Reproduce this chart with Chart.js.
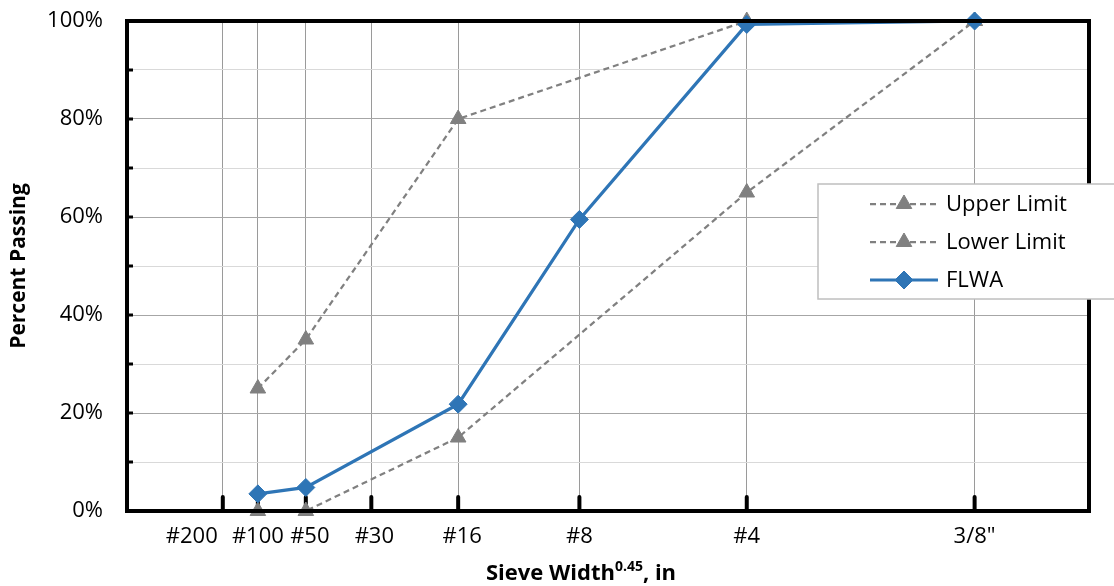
<!DOCTYPE html>
<html>
<head>
<meta charset="utf-8">
<script src="https://cdn.jsdelivr.net/npm/chart.js@4.4.0/dist/chart.umd.min.js"></script>
<style>
  html, body { margin:0; padding:0; background:#fff; }
  #wrap { width:1114px; height:586px; position:relative; }
</style>
</head>
<body>
<div id="wrap"><canvas id="gradChart"></canvas></div>
<script>
/* ------------------ Data ------------------ */
const sieveNames = ['#200', '#100', '#50', '#30', '#16', '#8', '#4', '3/8"'];
// sieve opening (in) raised to 0.45
const sieveX = [0.0727, 0.0993, 0.1357, 0.1854, 0.2513, 0.3433, 0.4703, 0.6432];
const upperLimit = [null, 25, 35, null, 80, null, 100, 100];
const lowerLimit = [null, 0, 0, null, 15, null, 65, 100];
const flwa = [null, 3.5, 4.8, null, 21.8, 59.5, 99.3, 100];
const yTicks = [0, 10, 20, 30, 40, 50, 60, 70, 80, 90, 100];

const FONT = "'Open Sans', 'Noto Sans', sans-serif";
const GRAY = '#808080';
const BLUE = '#2e75b6';
// label nudges (px) so the crowded sieve names don't collide, as in the original
const labelShift = [-31, 0, 4, 3, 4, 0, 0, 0];

function toPoints(vals) {
  return sieveX.map((x, i) => ({ x: x, y: vals[i] }));
}

/* ------------------ Frame, ticks, titles, legend ------------------ */
const framePlugin = {
  id: 'frame',
  beforeDatasetsDraw(chart) {
    const { ctx, chartArea: a, scales: { x, y } } = chart;
    ctx.save();
    ctx.strokeStyle = '#000';
    // x tick marks (inward)
    ctx.lineWidth = 4;
    ctx.lineCap = 'round';
    sieveX.forEach(v => {
      const px = x.getPixelForValue(v);
      ctx.beginPath();
      ctx.moveTo(px, a.bottom);
      ctx.lineTo(px, a.bottom - 14);
      ctx.stroke();
    });
    // y tick marks (inward)
    ctx.lineCap = 'butt';
    ctx.lineWidth = 3;
    yTicks.forEach(v => {
      const py = y.getPixelForValue(v);
      ctx.beginPath();
      ctx.moveTo(a.left, py);
      ctx.lineTo(a.left + 6, py);
      ctx.stroke();
    });
    ctx.restore();
  },
  afterDatasetsDraw(chart) {
    const { ctx, chartArea: a } = chart;
    ctx.save();
    ctx.strokeStyle = '#000';
    ctx.lineWidth = 4;
    ctx.strokeRect(a.left, a.top, a.right - a.left, a.bottom - a.top);
    ctx.restore();
  },
  afterDraw(chart) {
    const { ctx, chartArea: a, scales: { x } } = chart;

    // x tick labels
    ctx.save();
    ctx.fillStyle = '#000';
    ctx.font = '22px ' + FONT;
    ctx.textAlign = 'center';
    ctx.textBaseline = 'middle';
    sieveX.forEach((v, i) => {
      ctx.fillText(sieveNames[i], x.getPixelForValue(v) + labelShift[i], a.bottom + 26);
    });
    ctx.restore();

    // y title
    ctx.save();
    ctx.fillStyle = '#000';
    ctx.font = 'bold 21px ' + FONT;
    ctx.textAlign = 'center';
    ctx.textBaseline = 'middle';
    ctx.translate(19, 266);
    ctx.rotate(-Math.PI / 2);
    ctx.fillText('Percent Passing', 0, 0);
    ctx.restore();

    // x title with superscript
    ctx.save();
    ctx.fillStyle = '#000';
    ctx.textBaseline = 'alphabetic';
    ctx.textAlign = 'left';
    const big = 'bold 22px ' + FONT, small = 'bold 14px ' + FONT;
    ctx.font = big;
    const w1 = ctx.measureText('Sieve Width').width;
    const w3 = ctx.measureText(', in').width;
    ctx.font = small;
    const w2 = ctx.measureText('0.45').width;
    let sx = 581 - (w1 + w2 + w3) / 2;
    const base = 580;
    ctx.font = big;
    ctx.fillText('Sieve Width', sx, base);
    sx += w1;
    ctx.font = small;
    ctx.fillText('0.45', sx, base - 9);
    sx += w2;
    ctx.font = big;
    ctx.fillText(', in', sx, base);
    ctx.restore();

    // legend
    ctx.save();
    const lx = 818, ly = 184, lw = 310, lh = 115;
    ctx.fillStyle = '#fff';
    ctx.fillRect(lx, ly, lw, lh);
    ctx.strokeStyle = '#bfbfbf';
    ctx.lineWidth = 1.5;
    ctx.strokeRect(lx, ly, lw, lh);
    const items = [
      { text: 'Upper Limit', color: GRAY, dash: [6, 4], width: 2.25, style: 'triangle', r: 9, y: 204 },
      { text: 'Lower Limit', color: GRAY, dash: [6, 4], width: 2.25, style: 'triangle', r: 9, y: 242 },
      { text: 'FLWA', color: BLUE, dash: [], width: 3, style: 'rectRot', r: 9, y: 280 }
    ];
    items.forEach(it => {
      ctx.save();
      ctx.strokeStyle = it.color;
      ctx.lineWidth = it.width;
      ctx.setLineDash(it.dash);
      ctx.beginPath();
      ctx.moveTo(870, it.y);
      ctx.lineTo(938, it.y);
      ctx.stroke();
      ctx.setLineDash([]);
      ctx.fillStyle = it.color;
      ctx.strokeStyle = it.color;
      ctx.lineWidth = 1;
      Chart.helpers.drawPoint(ctx, { pointStyle: it.style, radius: it.r, borderWidth: 1 }, 904, it.y);
      ctx.restore();
      ctx.fillStyle = '#000';
      ctx.font = '22px ' + FONT;
      ctx.textAlign = 'left';
      ctx.textBaseline = 'middle';
      ctx.fillText(it.text, 946, it.y + 1);
    });
    ctx.restore();
  }
};

/* ------------------ Chart ------------------ */
const ctx = document.getElementById('gradChart').getContext('2d');
const gradChart = new Chart(ctx, {
  type: 'line',
  data: {
    datasets: [
      { label: 'Upper Limit', data: toPoints(upperLimit), borderColor: GRAY, backgroundColor: GRAY,
        borderWidth: 2.25, borderDash: [6, 4], pointStyle: 'triangle', pointRadius: 9,
        pointBorderWidth: 1, spanGaps: true, clip: false, order: 3 },
      { label: 'Lower Limit', data: toPoints(lowerLimit), borderColor: GRAY, backgroundColor: GRAY,
        borderWidth: 2.25, borderDash: [6, 4], pointStyle: 'triangle', pointRadius: 9,
        pointBorderWidth: 1, spanGaps: true, clip: false, order: 2 },
      { label: 'FLWA', data: toPoints(flwa), borderColor: BLUE, backgroundColor: BLUE,
        borderWidth: 3.25, pointStyle: 'rectRot', pointRadius: 9, pointBorderWidth: 1,
        spanGaps: true, clip: false, order: 1 }
    ]
  },
  options: {
    responsive: true,
    maintainAspectRatio: false,
    animation: false,
    layout: { padding: { top: 21, right: 25, left: 0, bottom: 0 } },
    plugins: { legend: { display: false }, tooltip: { enabled: false } },
    elements: { line: { tension: 0 } },
    scales: {
      x: {
        type: 'linear', min: 0, max: 0.73,
        afterBuildTicks: s => { s.ticks = sieveX.map(v => ({ value: v })); },
        afterFit: s => { s.height = 75; s.paddingLeft = 0; s.paddingRight = 0; },
        grid: { color: '#9a9a9a', lineWidth: 1, drawTicks: false },
        border: { display: false },
        ticks: { display: false }
      },
      y: {
        type: 'linear', min: 0, max: 100,
        afterBuildTicks: s => { s.ticks = yTicks.map(v => ({ value: v })); },
        afterFit: s => { s.width = 127; s.paddingTop = 0; s.paddingBottom = 0; },
        grid: {
          color: c => (c.tick.value % 20 === 0 ? '#a6a6a6' : '#d9d9d9'),
          lineWidth: 1, drawTicks: false
        },
        border: { display: false },
        ticks: {
          autoSkip: false, padding: 24,
          color: '#000', font: { family: FONT, size: 22 },
          callback: v => (v % 20 === 0 ? v + '%' : '')
        }
      }
    }
  },
  plugins: [framePlugin]
});
</script>
</body>
</html>
